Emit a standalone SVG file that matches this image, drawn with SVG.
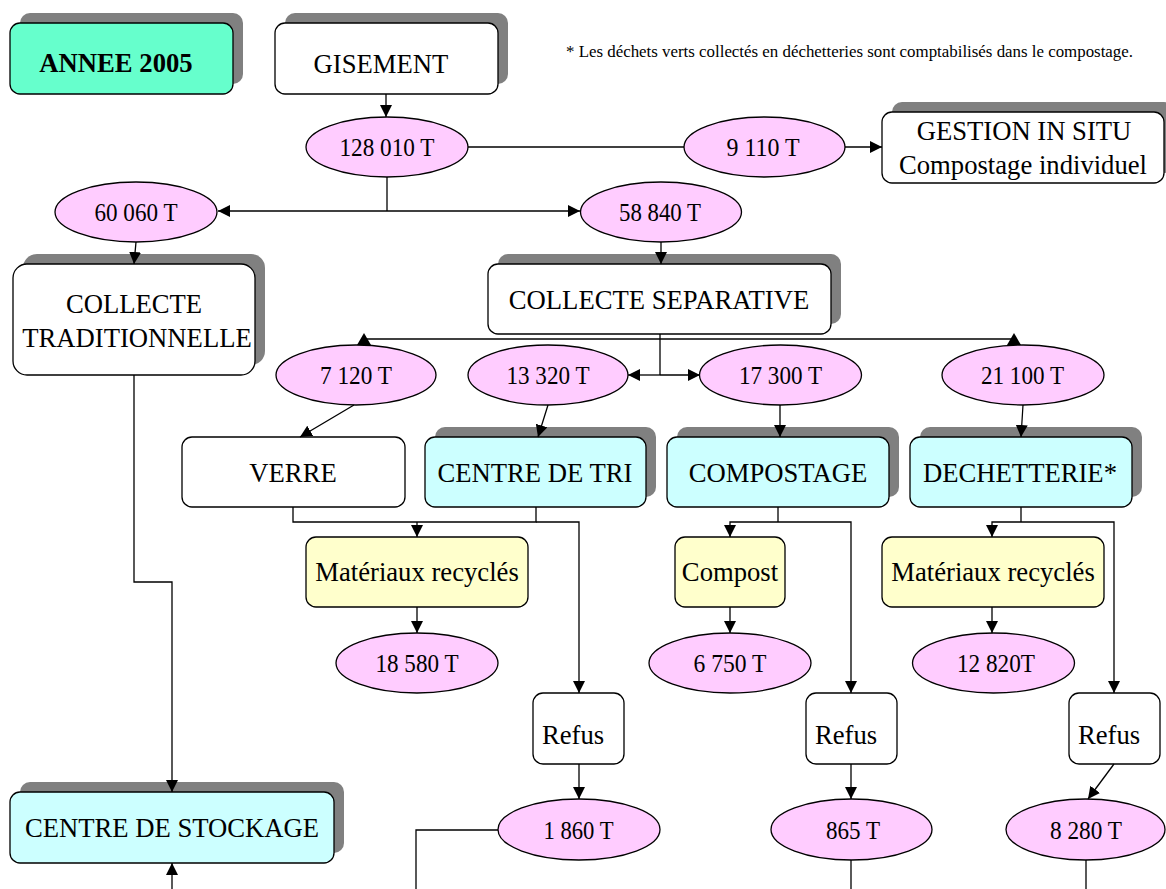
<svg xmlns="http://www.w3.org/2000/svg" width="1166" height="889" viewBox="0 0 1166 889">
<style>
.box{stroke:#000;stroke-width:1.3}
.sh{fill:#808080;stroke:none}
.w{fill:#fff}.g{fill:#66FFCC}.c{fill:#CCFFFF}.y{fill:#FFFFCC}
.el{fill:#FFCCFF;stroke:#000;stroke-width:1.3}
.t{font-family:"Liberation Serif","Times New Roman",serif;font-size:26.67px;fill:#000;text-anchor:middle}
.n{font-family:"Liberation Serif","Times New Roman",serif;font-size:25px;fill:#000;text-anchor:middle}
.fn{font-family:"Liberation Serif","Times New Roman",serif;font-size:16px;fill:#000}
.b{font-weight:bold}
.cn{fill:none;stroke:#000;stroke-width:1.3}
.ar{marker-end:url(#ah)}
</style>
<defs>
<marker id="ah" markerUnits="userSpaceOnUse" markerWidth="12" markerHeight="12" viewBox="0 0 12 12" refX="12" refY="6" orient="auto"><path d="M0,0 L12,6 L0,12 z" fill="#000"/></marker>
</defs>
<rect width="1166" height="889" fill="#fff"/>

<text class="fn" x="566" y="57" textLength="567" lengthAdjust="spacingAndGlyphs">* Les déchets verts collectés en déchetteries sont comptabilisés dans le compostage.</text>

<g id="annee">
<rect class="sh" x="20" y="13" width="223" height="71" rx="10"/>
<rect class="box g" x="10" y="23" width="223" height="71" rx="10"/>
<text class="t b" x="116" y="72">ANNEE 2005</text>
</g>
<g id="gisement">
<rect class="sh" x="285" y="13" width="223" height="71" rx="10"/>
<rect class="box w" x="275" y="23" width="223" height="71" rx="10"/>
<text class="t" x="381" y="73">GISEMENT</text>
</g>
<g id="gestion">
<rect class="sh" x="892" y="102" width="282" height="71" rx="10"/>
<rect class="box w" x="882" y="112" width="282" height="71" rx="10"/>
<text class="t" x="1024" y="140">GESTION IN SITU</text>
<text class="t" x="1023" y="174">Compostage individuel</text>
</g>
<g id="collecte-trad">
<rect class="sh" x="23" y="254" width="242" height="111" rx="14"/>
<rect class="box w" x="13" y="264" width="242" height="111" rx="14"/>
<text class="t" x="134" y="313">COLLECTE</text>
<text class="t" x="137" y="347">TRADITIONNELLE</text>
</g>
<g id="collecte-sep">
<rect class="sh" x="498" y="254" width="343" height="70" rx="10"/>
<rect class="box w" x="488" y="264" width="343" height="70" rx="10"/>
<text class="t" x="659" y="309">COLLECTE SEPARATIVE</text>
</g>
<g id="verre">
<rect class="box w" x="182" y="437" width="223" height="70" rx="10"/>
<text class="t" x="293" y="482">VERRE</text>
</g>
<g id="centre-tri">
<rect class="sh" x="435" y="427" width="221" height="70" rx="10"/>
<rect class="box c" x="425" y="437" width="221" height="70" rx="10"/>
<text class="t" x="535" y="482">CENTRE DE TRI</text>
</g>
<g id="compostage">
<rect class="sh" x="677" y="427" width="222" height="70" rx="10"/>
<rect class="box c" x="667" y="437" width="222" height="70" rx="10"/>
<text class="t" x="778" y="482">COMPOSTAGE</text>
</g>
<g id="dechetterie">
<rect class="sh" x="920" y="427" width="222" height="70" rx="10"/>
<rect class="box c" x="910" y="437" width="222" height="70" rx="10"/>
<text class="t" x="1020" y="482">DECHETTERIE*</text>
</g>
<g id="materiaux1">
<rect class="box y" x="306" y="537" width="222" height="70" rx="10"/>
<text class="t" x="417" y="581">Matériaux recyclés</text>
</g>
<g id="compost">
<rect class="box y" x="675" y="537" width="110" height="70" rx="10"/>
<text class="t" x="730" y="581">Compost</text>
</g>
<g id="materiaux2">
<rect class="box y" x="882" y="537" width="222" height="70" rx="10"/>
<text class="t" x="993" y="581">Matériaux recyclés</text>
</g>
<g id="refus1">
<rect class="box w" x="533" y="693" width="91" height="71" rx="10"/>
<text class="t" x="573" y="744">Refus</text>
</g>
<g id="refus2">
<rect class="box w" x="806" y="693" width="91" height="71" rx="10"/>
<text class="t" x="846" y="744">Refus</text>
</g>
<g id="refus3">
<rect class="box w" x="1069" y="693" width="91" height="71" rx="10"/>
<text class="t" x="1109" y="744">Refus</text>
</g>
<g id="stockage">
<rect class="sh" x="20" y="782" width="324" height="71" rx="10"/>
<rect class="box c" x="10" y="792" width="324" height="71" rx="10"/>
<text class="t" x="172" y="837">CENTRE DE STOCKAGE</text>
</g>

<g id="e128010"><ellipse class="el" cx="387" cy="147" rx="81" ry="30"/><text class="n" x="387" y="156" textLength="95" lengthAdjust="spacingAndGlyphs">128 010 T</text></g>
<g id="e9110"><ellipse class="el" cx="764.5" cy="147" rx="80.5" ry="30"/><text class="n" x="763" y="156" textLength="73" lengthAdjust="spacingAndGlyphs">9 110 T</text></g>
<g id="e60060"><ellipse class="el" cx="136" cy="212" rx="81" ry="30"/><text class="n" x="136" y="221" textLength="83" lengthAdjust="spacingAndGlyphs">60 060 T</text></g>
<g id="e58840"><ellipse class="el" cx="661" cy="212" rx="80.5" ry="30"/><text class="n" x="660" y="221" textLength="82" lengthAdjust="spacingAndGlyphs">58 840 T</text></g>
<g id="e7120"><ellipse class="el" cx="356" cy="375" rx="80" ry="30"/><text class="n" x="356" y="384" textLength="72" lengthAdjust="spacingAndGlyphs">7 120 T</text></g>
<g id="e13320"><ellipse class="el" cx="548" cy="375" rx="80" ry="30"/><text class="n" x="548" y="384" textLength="83" lengthAdjust="spacingAndGlyphs">13 320 T</text></g>
<g id="e17300"><ellipse class="el" cx="780.5" cy="375" rx="81" ry="30"/><text class="n" x="780.5" y="384" textLength="83" lengthAdjust="spacingAndGlyphs">17 300 T</text></g>
<g id="e21100"><ellipse class="el" cx="1023" cy="375" rx="81" ry="30"/><text class="n" x="1022.5" y="384" textLength="83" lengthAdjust="spacingAndGlyphs">21 100 T</text></g>
<g id="e18580"><ellipse class="el" cx="417" cy="663" rx="81" ry="30"/><text class="n" x="417" y="672" textLength="83" lengthAdjust="spacingAndGlyphs">18 580 T</text></g>
<g id="e6750"><ellipse class="el" cx="730" cy="663" rx="81" ry="30"/><text class="n" x="730" y="672" textLength="73" lengthAdjust="spacingAndGlyphs">6 750 T</text></g>
<g id="e12820"><ellipse class="el" cx="993.5" cy="663" rx="81" ry="30"/><text class="n" x="996" y="672" textLength="78" lengthAdjust="spacingAndGlyphs">12 820T</text></g>
<g id="e1860"><ellipse class="el" cx="579" cy="829.5" rx="81" ry="30.5"/><text class="n" x="578.5" y="839" textLength="70" lengthAdjust="spacingAndGlyphs">1 860 T</text></g>
<g id="e865"><ellipse class="el" cx="851.5" cy="829.5" rx="80.5" ry="30.5"/><text class="n" x="853" y="839" textLength="54" lengthAdjust="spacingAndGlyphs">865 T</text></g>
<g id="e8280"><ellipse class="el" cx="1085.5" cy="829.5" rx="79.5" ry="30.5"/><text class="n" x="1086" y="839" textLength="72" lengthAdjust="spacingAndGlyphs">8 280 T</text></g>

<g id="connectors">
<path class="cn ar" d="M386,94 V117"/>
<path class="cn" d="M468,147 H684"/>
<path class="cn ar" d="M845,147 H882"/>
<path class="cn" d="M387,177 V211"/>
<path class="cn ar" d="M387,211 H218"/>
<path class="cn ar" d="M387,211 H580"/>
<path class="cn ar" d="M136,242 L134,264"/>
<path class="cn ar" d="M134,375 V582 H172 V792"/>
<path class="cn ar" d="M172,889 V863"/>
<path class="cn ar" d="M661,242 V264"/>
<path class="cn" d="M660,334 V375"/>
<path class="cn ar" d="M660,375 H628"/>
<path class="cn ar" d="M660,375 H700"/>
<path class="cn" d="M364,339 H1014"/>
<polygon points="364,333 371,345 357,345" fill="#000"/>
<polygon points="1014,333 1021,345 1007,345" fill="#000"/>
<path class="cn ar" d="M354,405 L300,437"/>
<path class="cn ar" d="M548,405 L538,437"/>
<path class="cn ar" d="M780,405 V437"/>
<path class="cn ar" d="M1023,405 L1021,437"/>
<path class="cn" d="M293,507 V522 H536 V507"/>
<path class="cn ar" d="M417,522 V537"/>
<path class="cn ar" d="M536,522 H579 V693"/>
<path class="cn ar" d="M417,607 V633"/>
<path class="cn ar" d="M579,764 V799"/>
<path class="cn" d="M498,830 H416 V889"/>
<path class="cn" d="M778,507 V522"/>
<path class="cn ar" d="M778,522 H730 V537"/>
<path class="cn ar" d="M778,522 H851 V693"/>
<path class="cn ar" d="M730,607 V633"/>
<path class="cn ar" d="M851,764 V799"/>
<path class="cn" d="M851,860 V889"/>
<path class="cn" d="M1021,507 V522"/>
<path class="cn ar" d="M1021,522 H992 V537"/>
<path class="cn ar" d="M1021,522 H1114 V693"/>
<path class="cn ar" d="M992,607 V633"/>
<path class="cn ar" d="M1114,764 L1088,799"/>
<path class="cn" d="M1086,860 V889"/>
</g>
</svg>
